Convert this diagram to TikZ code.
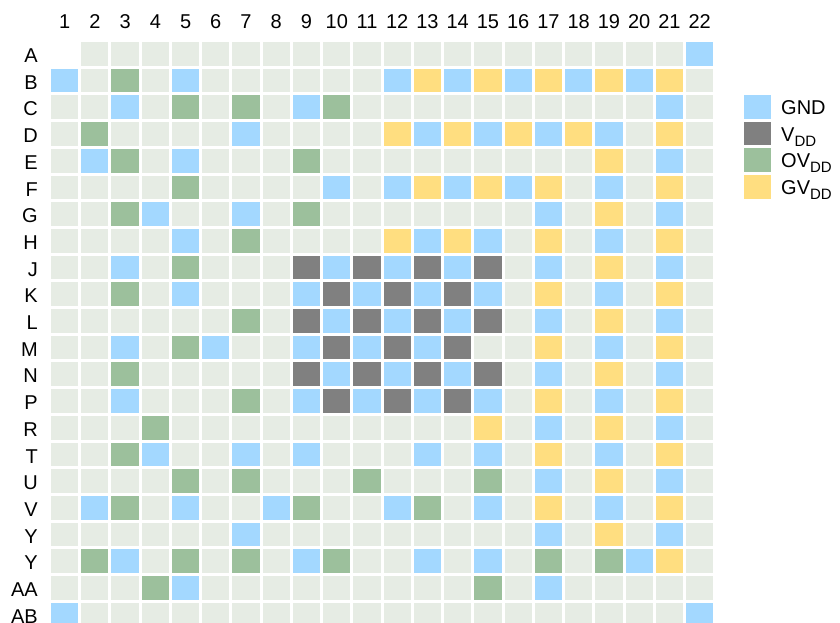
\documentclass[tikz,border=0pt]{standalone}
\usepackage{fontspec}
\setmainfont{Liberation Sans}
\definecolor{pinL}{RGB}{230,236,228}
\definecolor{pinG}{RGB}{163,216,255}
\definecolor{pinV}{RGB}{128,128,128}
\definecolor{pinO}{RGB}{156,192,156}
\definecolor{pinY}{RGB}{255,222,128}
\newcommand{\subDD}{\raisebox{-5pt}{\fontsize{15}{15}\selectfont DD}}
\begin{document}
\begin{tikzpicture}[x=1pt,y={(0pt,-1pt)},
  lbl/.style={font=\fontsize{20}{24}\selectfont, inner sep=0pt, text=black}]
\useasboundingbox (0,0) rectangle (840,622);
\clip (0,0) rectangle (840,622);
% cells
\foreach \row [count=\j] in {
 {X,L,L,L,L,L,L,L,L,L,L,L,L,L,L,L,L,L,L,L,L,G},
 {G,L,O,L,G,L,L,L,L,L,L,G,Y,G,Y,G,Y,G,Y,G,Y,L},
 {L,L,G,L,O,L,O,L,G,O,L,L,L,L,L,L,L,L,L,L,G,L},
 {L,O,L,L,L,L,G,L,L,L,L,Y,G,Y,G,Y,G,Y,G,L,Y,L},
 {L,G,O,L,G,L,L,L,O,L,L,L,L,L,L,L,L,L,Y,L,G,L},
 {L,L,L,L,O,L,L,L,L,G,L,G,Y,G,Y,G,Y,L,G,L,Y,L},
 {L,L,O,G,L,L,G,L,O,L,L,L,L,L,L,L,G,L,Y,L,G,L},
 {L,L,L,L,G,L,O,L,L,L,L,Y,G,Y,G,L,Y,L,G,L,Y,L},
 {L,L,G,L,O,L,L,L,V,G,V,G,V,G,V,L,G,L,Y,L,G,L},
 {L,L,O,L,G,L,L,L,G,V,G,V,G,V,G,L,Y,L,G,L,Y,L},
 {L,L,L,L,L,L,O,L,V,G,V,G,V,G,V,L,G,L,Y,L,G,L},
 {L,L,G,L,O,G,L,L,G,V,G,V,G,V,L,L,Y,L,G,L,Y,L},
 {L,L,O,L,L,L,L,L,V,G,V,G,V,G,V,L,G,L,Y,L,G,L},
 {L,L,G,L,L,L,O,L,G,V,G,V,G,V,G,L,Y,L,G,L,Y,L},
 {L,L,L,O,L,L,L,L,L,L,L,L,L,L,Y,L,G,L,Y,L,G,L},
 {L,L,O,G,L,L,G,L,G,L,L,L,G,L,G,L,Y,L,G,L,Y,L},
 {L,L,L,L,O,L,O,L,L,L,O,L,L,L,O,L,G,L,Y,L,G,L},
 {L,G,O,L,G,L,L,G,O,L,L,G,O,L,G,L,Y,L,G,L,Y,L},
 {L,L,L,L,L,L,G,L,L,L,L,L,L,L,L,L,G,L,Y,L,G,L},
 {L,O,G,L,O,L,O,L,G,O,L,L,G,L,G,L,O,L,O,G,Y,L},
 {L,L,L,O,G,L,L,L,L,L,L,L,L,L,O,L,G,L,L,L,L,L},
 {G,L,L,L,L,L,L,L,L,L,L,L,L,L,L,L,L,L,L,L,L,G}}
{
  \foreach \c [count=\i] in \row {
    \if\c X\else
      \fill[pin\c] ({51+(\i-1)*30.24},{42+(\j-1)*26.7}) rectangle ++(27.2,23.7);
    \fi
  }
}
% column labels
\foreach \i in {1,...,22}
  \node[lbl, anchor=base] (col\i) at ({64.6+(\i-1)*30.24},28.3) {\i};
% row labels
\foreach \r [count=\j] in {A,B,C,D,E,F,G,H,J,K,L,M,N,P,R,T,U,V,Y,Y,AA,AB}
  \node[lbl, anchor=base east] (row\j) at (38,{62.5+(\j-1)*26.7}) {\r};
% legend
\foreach \col/\txt [count=\k] in {pinG/GND, pinV/V\subDD, pinO/OV\subDD, pinY/GV\subDD} {
  \fill[\col] (744,{95+(\k-1)*26.7}) rectangle ++(27.2,23.7);
  \node[lbl, anchor=base west] (leg\k) at (781,{114.3+(\k-1)*26.7}) {\txt};
}
\end{tikzpicture}
\end{document}
